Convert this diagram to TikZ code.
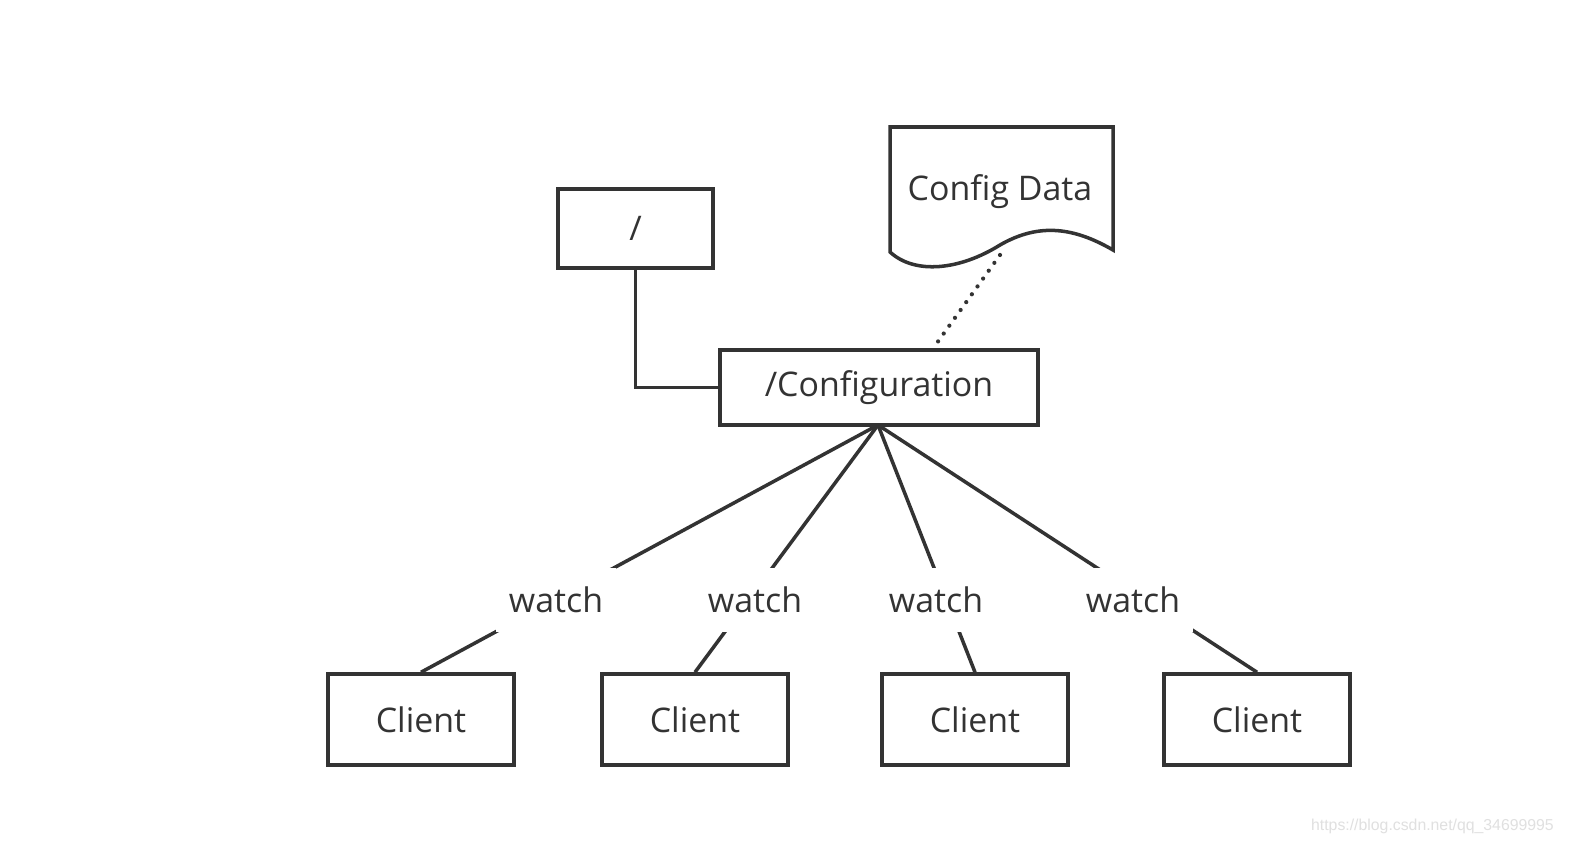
\documentclass[tikz,border=0pt]{standalone}
\usepackage{fontspec}
\setmainfont{Open Sans}
\newfontfamily\wmfont{Liberation Sans}
\begin{document}
\begin{tikzpicture}[x=0.02cm,y=-0.02cm,
  box/.style={draw=black!80, line width=2pt, fill=white, inner sep=0pt, font=\fontsize{19.3}{22}\selectfont, text=black!80},
  conn/.style={draw=black!80, line width=2pt},
  wlabel/.style={fill=white, inner sep=0pt, minimum width=120*0.02cm, minimum height=64*0.02cm, font=\fontsize{19.3}{22}\selectfont, text=black!80},
  dots/.style={draw=black!80, line width=2.4pt, line cap=round, dash pattern=on 0pt off 5.5pt}]
\useasboundingbox (0,0) rectangle (1569,844);
\fill[white] (0,0) rectangle (1569,844);
% nodes
\node[box, minimum width=155*0.02cm, minimum height=79*0.02cm] (root) at (635.5,228.5) {\raisebox{-1.5pt}{/}};
\node[box, minimum width=318*0.02cm, minimum height=75*0.02cm] (conf) at (879,387.5) {\raisebox{-1.5pt}{/Configuration}};
\node[box, minimum width=186*0.02cm, minimum height=91*0.02cm] (c1) at (421,719.5) {\raisebox{-1pt}{Client}};
\node[box, minimum width=186*0.02cm, minimum height=91*0.02cm] (c2) at (695,719.5) {\raisebox{-1pt}{Client}};
\node[box, minimum width=186*0.02cm, minimum height=91*0.02cm] (c3) at (975,719.5) {\raisebox{-1pt}{Client}};
\node[box, minimum width=186*0.02cm, minimum height=91*0.02cm] (c4) at (1257,719.5) {\raisebox{-1pt}{Client}};
% document shape
\draw[draw=black!80, line width=2pt, fill=white, line join=miter]
  (890,127) -- (1113,127) -- (1113,250)
  .. controls (1075,228) and (1040,222) .. (1000,245)
  .. controls (960,270) and (915,275) .. (890,252) -- cycle;
\node[font=\fontsize{19.3}{22}\selectfont, text=black!80] (cd) at (1000,192) {Config Data};
\coordinate (cdb) at (1000,255);
% connectors
\draw[conn] (root.south) |- (conf.west);
\draw[dots] (cdb) -- (933,348.5) coordinate (ct);
\coordinate (cs) at (878,425);
\draw[conn] (cs) -- (c1.north);
\draw[conn] (cs) -- (c2.north);
\draw[conn] (cs) -- (c3.north);
\draw[conn] (cs) -- (c4.north);
% labels
\node[wlabel] (w1) at (556,599.5) {watch};
\node[wlabel] (w2) at (755,599.5) {watch};
\node[wlabel, minimum width=100*0.02cm] (w3) at (936,599.5) {watch};
\node[wlabel] (w4) at (1133,599.5) {watch};
% watermark
\node[font=\wmfont\fontsize{9}{10}\selectfont, text=black!12, anchor=east] (wm) at (1560,826) {https://blog.csdn.net/qq\_34699995};
\end{tikzpicture}
\end{document}
